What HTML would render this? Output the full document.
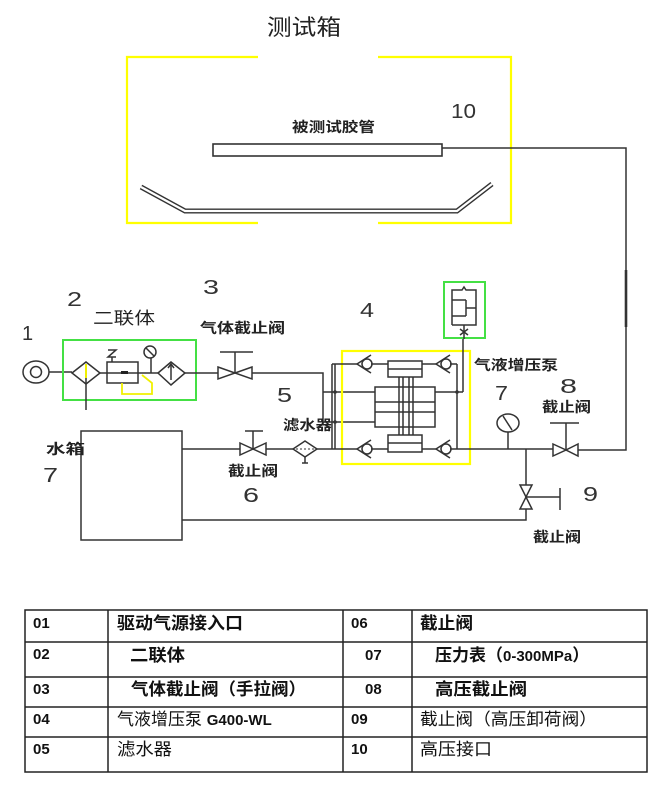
<!DOCTYPE html>
<html><head><meta charset="utf-8">
<style>
html,body{margin:0;padding:0;background:#fff;}
svg{display:block;}
.l{stroke:#333;stroke-width:1.5;fill:none;}
.n{font-family:"Liberation Sans",sans-serif;font-size:20px;fill:#333;}
.b{font-family:"Liberation Sans","Noto Sans CJK SC",sans-serif;font-size:14px;font-weight:bold;fill:#222;}
.t{font-family:"Liberation Sans","Noto Sans CJK SC",sans-serif;font-size:17px;fill:#111;}
.tb{font-family:"Liberation Sans","Noto Sans CJK SC",sans-serif;font-size:17px;font-weight:bold;fill:#111;}
.d{font-family:"Liberation Sans",sans-serif;font-size:15px;font-weight:bold;fill:#111;}
</style></head>
<body>
<svg width="668" height="787" viewBox="0 0 668 787" xmlns="http://www.w3.org/2000/svg">
<rect width="668" height="787" fill="#fff"/>

<!-- Title -->
<text x="267" y="35" font-family="Liberation Sans, Noto Sans CJK SC, sans-serif" font-size="22" fill="#222" textLength="74" lengthAdjust="spacingAndGlyphs">测试箱</text>

<!-- Test box (yellow) -->
<g stroke="#ffff00" stroke-width="2.2" fill="none">
  <polyline points="258,57 127,57 127,223 258,223"/>
  <polyline points="378,57 511,57 511,223 378,223"/>
</g>
<text class="n" x="451" y="118" textLength="25" lengthAdjust="spacingAndGlyphs" font-size="21">10</text>
<text class="b" x="292" y="132" textLength="83" lengthAdjust="spacingAndGlyphs">被测试胶管</text>
<rect x="213" y="144" width="229" height="12" fill="#fff" stroke="#333" stroke-width="1.6"/>
<!-- tray double line -->
<polyline points="141,187 185,211 457,211 492,184" fill="none" stroke="#333" stroke-width="5"/>
<polyline points="141,187 185,211 457,211 492,184" fill="none" stroke="#fff" stroke-width="2.2"/>

<!-- hose to right vertical -->
<polyline class="l" points="442,148 626,148 626,450 578,450"/>
<line x1="626" y1="270" x2="626" y2="327" stroke="#333" stroke-width="2.6"/>

<!-- Source 1 -->
<text class="n" x="22" y="340">1</text>
<ellipse cx="36" cy="372" rx="13" ry="11" class="l"/>
<circle cx="36" cy="372" r="5.5" class="l"/>
<line class="l" x1="49" y1="372" x2="72" y2="372"/>

<!-- 2 Two-unit -->
<text class="n" x="67" y="306" textLength="15" lengthAdjust="spacingAndGlyphs">2</text>
<text x="93" y="324" font-family="Liberation Sans, Noto Sans CJK SC, sans-serif" font-size="17" fill="#222" textLength="62" lengthAdjust="spacingAndGlyphs">二联体</text>
<rect x="63" y="340" width="133" height="60" fill="none" stroke="#44e044" stroke-width="2"/>
<!-- filter diamond -->
<polygon points="72,373 86,362 100,373 86,384" class="l"/>
<line x1="86" y1="364" x2="86" y2="378" stroke="#f0f000" stroke-width="2"/>
<line class="l" x1="86" y1="378" x2="86" y2="410"/>
<line class="l" x1="100" y1="373" x2="158" y2="373"/>
<!-- regulator -->
<rect x="107" y="362" width="31" height="21" class="l"/>
<polyline class="l" points="108,350 116,350 108,357 116,357" stroke-width="1.3"/>
<line x1="112" y1="357" x2="112" y2="362" class="l" stroke-width="1.2"/>
<rect x="121" y="371" width="7" height="3" fill="#222"/>
<polyline points="122,383 122,394 152,394 152,383 142,375" fill="none" stroke="#f0f000" stroke-width="1.8"/>
<!-- gauge -->
<line class="l" x1="151" y1="358" x2="151" y2="373"/>
<circle cx="150" cy="352" r="6" class="l"/>
<line class="l" x1="146" y1="348" x2="154" y2="356"/>
<!-- lubricator -->
<polygon points="158,373 171,362 185,373 171,385" class="l"/>
<line class="l" x1="171" y1="365" x2="171" y2="380"/>
<polyline class="l" points="168,368 171,364 174,368" stroke-width="1.2"/>
<line class="l" x1="185" y1="373" x2="218" y2="373"/>

<!-- 3 Valve -->
<text class="n" x="203" y="294" textLength="16" lengthAdjust="spacingAndGlyphs">3</text>
<text class="b" x="200" y="333" textLength="85" lengthAdjust="spacingAndGlyphs">气体截止阀</text>
<polygon points="218,367 235,373 218,379" class="l"/>
<polygon points="252,367 235,373 252,379" class="l"/>
<line class="l" x1="235" y1="373" x2="235" y2="352"/>
<line class="l" x1="220" y1="352" x2="253" y2="352"/>
<polyline class="l" points="252,373 323,373 323,422 375,422"/>
<line class="l" x1="323" y1="392" x2="375" y2="392"/>

<!-- 5 filter label -->
<text class="n" x="277" y="402" textLength="15" lengthAdjust="spacingAndGlyphs">5</text>

<!-- 4 Pump -->
<text class="n" x="360" y="317" textLength="14" lengthAdjust="spacingAndGlyphs">4</text>
<rect x="342" y="351" width="128" height="113" fill="none" stroke="#ffff00" stroke-width="2.2"/>
<!-- left verticals -->
<line class="l" x1="332" y1="364" x2="332" y2="449"/>
<line class="l" x1="335" y1="364" x2="335" y2="449"/>
<circle cx="335" cy="392" r="1.8" fill="#333"/>
<circle cx="335" cy="422" r="1.8" fill="#333"/>
<!-- top pipe -->
<line class="l" x1="332" y1="364" x2="357" y2="364"/>
<line class="l" x1="371" y1="364" x2="388" y2="364"/>
<line class="l" x1="422" y1="364" x2="436" y2="364"/>
<line class="l" x1="450" y1="364" x2="457" y2="364"/>
<!-- bottom pipe -->
<line class="l" x1="317" y1="449" x2="357" y2="449"/>
<line class="l" x1="371" y1="449" x2="388" y2="449"/>
<line class="l" x1="422" y1="449" x2="436" y2="449"/>
<line class="l" x1="450" y1="449" x2="553" y2="449"/>
<!-- check valves -->
<g class="l">
  <polyline points="371,355 357,364 371,373"/><circle cx="367" cy="364" r="5"/>
  <polyline points="371,440 357,449 371,458"/><circle cx="367" cy="449" r="5"/>
  <polyline points="450,355 436,364 450,373"/><circle cx="446" cy="364" r="5"/>
  <polyline points="450,440 436,449 450,458"/><circle cx="446" cy="449" r="5"/>
</g>
<!-- cylinders -->
<rect x="388" y="361" width="34" height="16" class="l"/>
<line class="l" x1="388" y1="369" x2="422" y2="369"/>
<g class="l" stroke-width="1.3">
  <line x1="399" y1="377" x2="399" y2="435"/>
  <line x1="403" y1="377" x2="403" y2="435"/>
  <line x1="409" y1="377" x2="409" y2="435"/>
  <line x1="413" y1="377" x2="413" y2="435"/>
</g>
<rect x="375" y="387" width="60" height="40" class="l"/>
<line class="l" x1="375" y1="402" x2="435" y2="402"/>
<line class="l" x1="375" y1="412" x2="435" y2="412"/>
<rect x="388" y="435" width="34" height="17" class="l" fill="#fff"/>
<line class="l" x1="388" y1="443" x2="422" y2="443"/>
<!-- right verticals -->
<line class="l" x1="457" y1="364" x2="457" y2="449"/>
<line class="l" x1="463" y1="339" x2="463" y2="392"/>
<line class="l" x1="435" y1="392" x2="463" y2="392"/>
<circle cx="457" cy="392" r="1.8" fill="#333"/>

<!-- accumulator -->
<rect x="444" y="282" width="41" height="56" fill="none" stroke="#44e044" stroke-width="2"/>
<polyline class="l" points="452,325 452,290 462,290 464,287 466,290 476,290 476,325 452,325"/>
<g class="l" stroke-width="1.3">
  <line x1="452" y1="300" x2="466" y2="300"/>
  <line x1="466" y1="300" x2="466" y2="316"/>
  <line x1="466" y1="308" x2="476" y2="308"/>
  <line x1="452" y1="316" x2="466" y2="316"/>
  <line x1="464" y1="325" x2="464" y2="339"/>
  <line x1="460" y1="329" x2="468" y2="335"/>
  <line x1="468" y1="329" x2="460" y2="335"/>
</g>
<text class="b" x="474" y="370" textLength="84" lengthAdjust="spacingAndGlyphs">气液增压泵</text>

<!-- 7 gauge -->
<text class="n" x="495" y="400" textLength="13" lengthAdjust="spacingAndGlyphs">7</text>
<ellipse cx="508" cy="423" rx="11" ry="9" class="l"/>
<line class="l" x1="503" y1="416" x2="512" y2="430"/>
<line class="l" x1="508" y1="432" x2="508" y2="449"/>

<!-- 8 valve -->
<text class="n" x="560" y="393" textLength="17" lengthAdjust="spacingAndGlyphs">8</text>
<text class="b" x="542" y="412" textLength="49" lengthAdjust="spacingAndGlyphs">截止阀</text>
<polygon points="553,444 566,450 553,456" class="l"/>
<polygon points="578,444 566,450 578,456" class="l"/>
<line class="l" x1="566" y1="450" x2="566" y2="423"/>
<line class="l" x1="550" y1="423" x2="579" y2="423"/>

<!-- 9 valve -->
<line class="l" x1="526" y1="449" x2="526" y2="485"/>
<polygon points="520,485 532,485 526,497" class="l"/>
<polygon points="520,509 532,509 526,497" class="l"/>
<line class="l" x1="526" y1="497" x2="560" y2="497"/>
<line class="l" x1="560" y1="488" x2="560" y2="510"/>
<polyline class="l" points="526,509 526,520 182,520"/>
<text class="n" x="583" y="501" textLength="15" lengthAdjust="spacingAndGlyphs">9</text>
<text class="b" x="533" y="542" textLength="48" lengthAdjust="spacingAndGlyphs">截止阀</text>

<!-- water tank -->
<rect x="81" y="431" width="101" height="109" class="l"/>
<text class="b" x="46" y="454" font-size="16" textLength="39" lengthAdjust="spacingAndGlyphs">水箱</text>
<text class="n" x="43" y="482" textLength="15" lengthAdjust="spacingAndGlyphs">7</text>
<line class="l" x1="182" y1="449" x2="240" y2="449"/>
<!-- valve 6 -->
<polygon points="240,443 253,449 240,455" class="l"/>
<polygon points="266,443 253,449 266,455" class="l"/>
<line class="l" x1="253" y1="449" x2="253" y2="431"/>
<line class="l" x1="245" y1="431" x2="263" y2="431"/>
<line class="l" x1="266" y1="449" x2="293" y2="449"/>
<text class="b" x="228" y="476" textLength="50" lengthAdjust="spacingAndGlyphs">截止阀</text>
<text class="n" x="243" y="502" textLength="16" lengthAdjust="spacingAndGlyphs">6</text>
<!-- water filter -->
<polygon points="293,449 305,441 317,449 305,457" class="l"/>
<line x1="296" y1="449" x2="314" y2="449" stroke="#333" stroke-width="1" stroke-dasharray="2,2"/>
<line class="l" x1="305" y1="457" x2="305" y2="463"/>
<line class="l" x1="302" y1="463" x2="308" y2="463" stroke-width="1.2"/>
<text class="b" x="283" y="430" textLength="49" lengthAdjust="spacingAndGlyphs">滤水器</text>

<!-- Table -->
<g stroke="#222" stroke-width="1.5" fill="none">
  <rect x="25" y="610" width="622" height="162"/>
  <line x1="25" y1="642" x2="647" y2="642"/>
  <line x1="25" y1="677" x2="647" y2="677"/>
  <line x1="25" y1="707" x2="647" y2="707"/>
  <line x1="25" y1="737" x2="647" y2="737"/>
  <line x1="108" y1="610" x2="108" y2="772"/>
  <line x1="343" y1="610" x2="343" y2="772"/>
  <line x1="412" y1="610" x2="412" y2="772"/>
</g>
<text class="d" x="33" y="628">01</text>
<text class="d" x="33" y="659">02</text>
<text class="d" x="33" y="694">03</text>
<text class="d" x="33" y="724">04</text>
<text class="d" x="33" y="754">05</text>
<text class="d" x="351" y="628">06</text>
<text class="d" x="365" y="660">07</text>
<text class="d" x="365" y="694">08</text>
<text class="d" x="351" y="724">09</text>
<text class="d" x="351" y="754">10</text>

<text class="tb" x="117" y="629" textLength="126" lengthAdjust="spacingAndGlyphs">驱动气源接入口</text>
<text class="tb" x="130" y="661" textLength="55" lengthAdjust="spacingAndGlyphs">二联体</text>
<text class="tb" x="131" y="695" textLength="175" lengthAdjust="spacingAndGlyphs">气体截止阀（手拉阀）</text>
<text class="t" x="117" y="725">气液增压泵 <tspan font-weight="bold" font-size="15">G400-WL</tspan></text>
<text class="t" x="117" y="755" textLength="55" lengthAdjust="spacingAndGlyphs">滤水器</text>

<text class="tb" x="420" y="629" textLength="53" lengthAdjust="spacingAndGlyphs">截止阀</text>
<text class="tb" x="435" y="661">压力表（<tspan font-size="15">0-300MPa</tspan>）</text>
<text class="tb" x="435" y="695" textLength="92" lengthAdjust="spacingAndGlyphs">高压截止阀</text>
<text class="t" x="420" y="725" textLength="177" lengthAdjust="spacingAndGlyphs">截止阀（高压卸荷阀）</text>
<text class="t" x="420" y="755" textLength="72" lengthAdjust="spacingAndGlyphs">高压接口</text>
</svg>
</body></html>
